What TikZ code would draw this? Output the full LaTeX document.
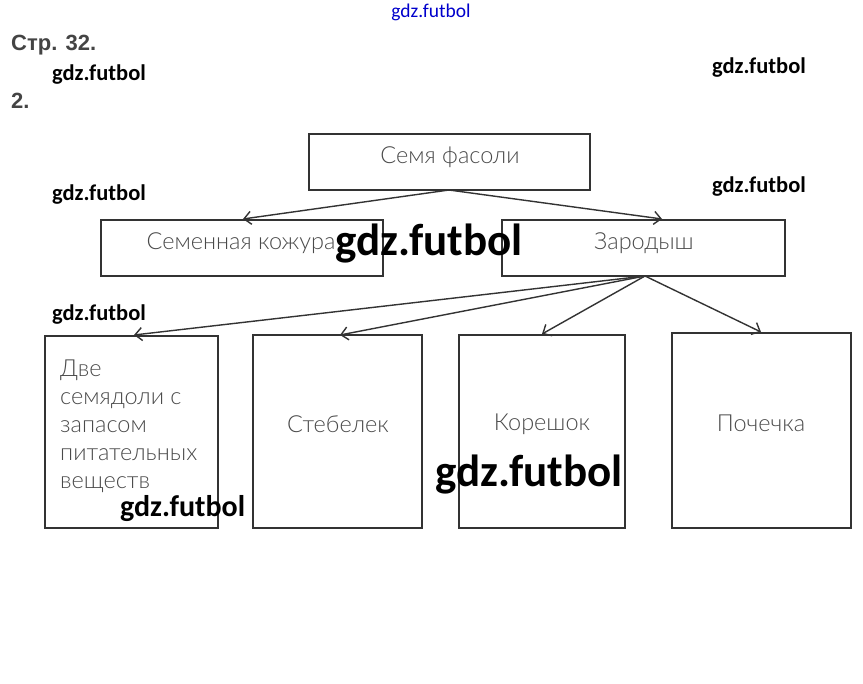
\documentclass[tikz,border=0pt]{standalone}
\usepackage{fontspec}
\setmainfont{Liberation Sans}
\newfontfamily\boxfont{Lato Light}
\newfontfamily\wmfont{Carlito}
\usetikzlibrary{arrows.meta}
\definecolor{linegray}{HTML}{333333}
\definecolor{textgray}{HTML}{4A4A4A}
\definecolor{headgray}{HTML}{444444}
\tikzset{
  box/.style={draw=linegray, line width=1.6pt, minimum width=#1, inner sep=0pt},
  lbl/.style={font=\boxfont\fontsize{23.5}{28}\selectfont, text=textgray, inner sep=0pt},
  conn/.style={draw=linegray, line width=1.4pt, -{Straight Barb[length=7pt,width=13pt,line width=1.4pt]}},
  wm/.style={font=\wmfont\bfseries\fontsize{#1}{#1}\selectfont, text=black, inner sep=0pt},
  head/.style={font=\bfseries\fontsize{22}{24}\selectfont, text=headgray, inner sep=0pt, anchor=west}
}
\begin{document}
\begin{tikzpicture}[x=1pt,y=-1pt]
\useasboundingbox[fill=white] (0,0) rectangle (863,684);
% boxes
\node[box=281pt, minimum height=56pt] (seed) at (449.5,162) {};
\node[box=282pt, minimum height=56pt] (coat) at (242,248) {};
\node[box=283pt, minimum height=56pt] (embryo) at (643.5,248) {};
\node[box=173pt, minimum height=192pt] (cotyl) at (131.5,432) {};
\node[box=169pt, minimum height=193pt] (stem) at (337.5,431.5) {};
\node[box=166pt, minimum height=193pt] (root) at (542,431.5) {};
\node[box=179pt, minimum height=195pt] (bud) at (761.5,430.5) {};
% labels
\node[lbl] (tseed) at (450,157) {Семя фасоли};
\node[lbl] (tcoat) at (241,243) {Семенная кожура};
\node[lbl] (tembryo) at (644,243) {Зародыш};
\node[lbl, align=left, anchor=north west] (tcotyl) at (60,360) {Две\\семядоли с\\запасом\\питательных\\веществ};
\node[lbl] (tstem) at (338,424) {Стебелек};
\node[lbl] (troot) at (542,424) {Корешок};
\node[lbl] (tbud) at (761,423) {Почечка};
% connector anchors
\coordinate (s0) at (449,190);
\coordinate (e0) at (645,276);
\coordinate (c1) at (243,219);
\coordinate (c2) at (662,219);
\coordinate (d1) at (134,335);
\coordinate (d2) at (340,335);
\coordinate (d3) at (542,334);
\coordinate (d4) at (761,332);
\draw[conn] (s0) -- (c1);
\draw[conn] (s0) -- (c2);
\draw[conn] (e0) -- (d1);
\draw[conn] (e0) -- (d2);
\draw[conn] (e0) -- (d3);
\draw[conn] (e0) -- (d4);
% header
\node[head] (page) at (11,45) {Стр. 32.};
\node[head] (num) at (11,101) {2.};
% watermarks
\node[font=\wmfont\fontsize{19.5}{19.5}\selectfont, text=blue!80!black, inner sep=0pt] (wm0) at (431,12) {gdz.futbol};
\node[wm=22.5, anchor=west] (wm1) at (52,75) {gdz.futbol};
\node[wm=22.5, anchor=west] (wm2) at (712,68) {gdz.futbol};
\node[wm=22.5, anchor=west] (wm3) at (52,195) {gdz.futbol};
\node[wm=22.5, anchor=west] (wm4) at (712,187) {gdz.futbol};
\node[wm=22.5, anchor=west] (wm5) at (52,315) {gdz.futbol};
\node[wm=45, anchor=west] (wm6) at (335,244) {gdz.futbol};
\node[wm=45, anchor=west] (wm7) at (435,475) {gdz.futbol};
\node[wm=30, anchor=west] (wm8) at (120,509) {gdz.futbol};
\end{tikzpicture}
\end{document}
